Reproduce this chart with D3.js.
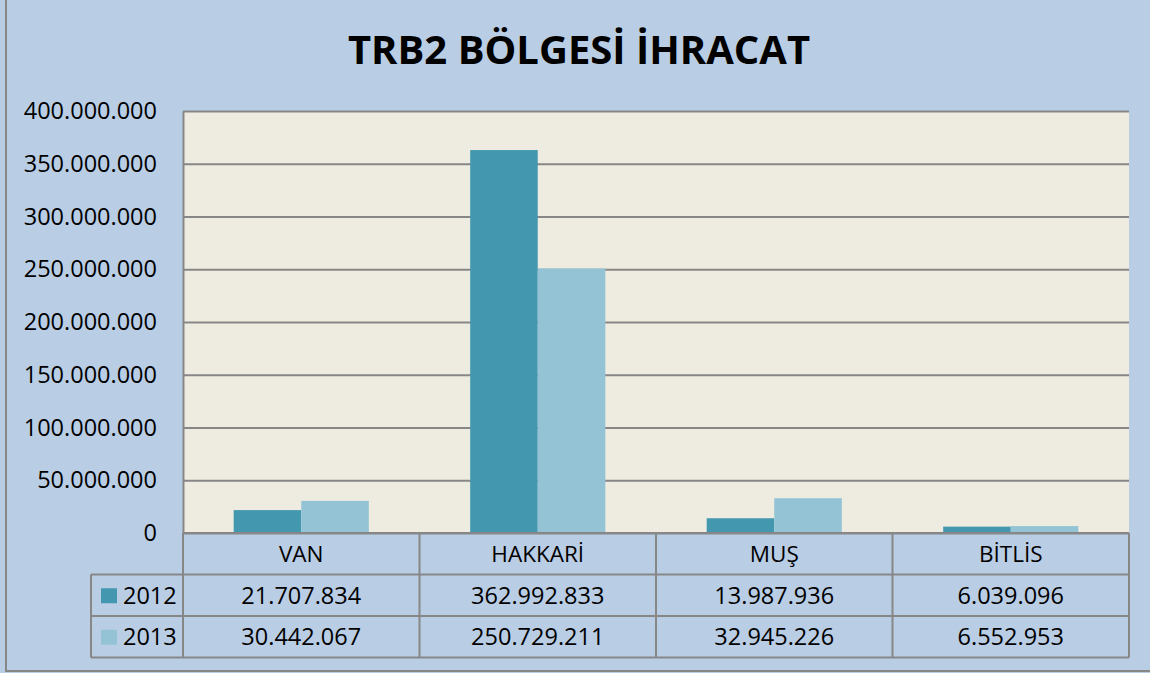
<!DOCTYPE html>
<html>
<head>
<meta charset="utf-8">
<script src="https://cdn.jsdelivr.net/npm/d3@7"></script>
<style>
  html, body { margin: 0; padding: 0; background: #b9cde5; }
  svg { display: block; font-family: "Open Sans", sans-serif; }
</style>
</head>
<body>
<svg id="chart" width="1150" height="673"></svg>
<script>
// Data
const categories = ["VAN", "HAKKARİ", "MUŞ", "BİTLİS"];
const years = ["2012", "2013"];
const values2012 = [21707834, 362992833, 13987936, 6039096];
const values2013 = [30442067, 250729211, 32945226, 6552953];
const yTicks = [0, 50e6, 100e6, 150e6, 200e6, 250e6, 300e6, 350e6, 400e6];

const colors = {"2012": "#4398b0", "2013": "#93c3d5"};
const lineColor = "#878787";

const width = 1150, height = 673;
const plot = {left: 183, right: 1129, top: 111, bottom: 533};
const rowH = 41.5;
const legendLeft = 91;
const fontSize = 23.5;

// turkish style number format: 21.707.834
const trLocale = d3.formatLocale({decimal: ",", thousands: ".", grouping: [3], currency: ["", ""]});
const fmt = trLocale.format(",d");

const svg = d3.select("#chart");

// background + outer border
svg.append("rect")
  .attr("x", 0).attr("y", 0).attr("width", width).attr("height", height)
  .attr("fill", "#b9cde5");
svg.append("rect")
  .attr("x", 6).attr("y", -3).attr("width", width + 10).attr("height", 674)
  .attr("fill", "none").attr("stroke", lineColor).attr("stroke-width", 2);

// title
svg.append("text")
  .attr("x", 579).attr("y", 64)
  .attr("text-anchor", "middle")
  .attr("font-size", 40).attr("font-weight", "bold")
  .attr("fill", "#000")
  .text("TRB2 BÖLGESİ İHRACAT");

// scales
const y = d3.scaleLinear().domain([0, 400e6]).range([plot.bottom, plot.top]);
const x0 = d3.scaleBand().domain(categories).range([plot.left, plot.right]).padding(0);
const x1 = d3.scaleBand().domain(years).range([0, x0.bandwidth()])
  .paddingInner(0).paddingOuter(0.75);

// plot area
svg.append("rect")
  .attr("x", plot.left).attr("y", plot.top)
  .attr("width", plot.right - plot.left).attr("height", plot.bottom - plot.top)
  .attr("fill", "#eeece1");

// y axis with gridlines
const yAxis = d3.axisLeft(y)
  .tickValues(yTicks)
  .tickFormat(d => d === 0 ? "0" : fmt(d))
  .tickSizeInner(-(plot.right - plot.left))
  .tickSizeOuter(0)
  .tickPadding(26);

const gy = svg.append("g")
  .attr("transform", `translate(${plot.left},0)`)
  .call(yAxis);
gy.select(".domain").attr("stroke", lineColor).attr("stroke-width", 2);
gy.selectAll(".tick line").attr("stroke", lineColor).attr("stroke-width", 2);
gy.selectAll(".tick text")
  .attr("font-size", fontSize)
  .attr("font-family", "Open Sans, sans-serif")
  .attr("fill", "#000");

// bars
const rows = categories.map((c, i) => ({cat: c, vals: [values2012[i], values2013[i]]}));

const groups = svg.append("g").selectAll("g")
  .data(rows)
  .join("g")
  .attr("transform", d => `translate(${x0(d.cat)},0)`);

groups.selectAll("rect")
  .data(d => years.map((yr, j) => ({year: yr, value: d.vals[j]})))
  .join("rect")
  .attr("x", d => x1(d.year))
  .attr("width", x1.bandwidth())
  .attr("y", d => y(d.value))
  .attr("height", d => y(0) - y(d.value))
  .attr("fill", d => colors[d.year]);

// data table under the plot
const table = svg.append("g");
const catRowTop = plot.bottom;
const rowTops = [catRowTop, catRowTop + rowH, catRowTop + 2 * rowH, catRowTop + 3 * rowH];

// category labels
table.selectAll("text.cat")
  .data(categories)
  .join("text")
  .attr("class", "cat")
  .attr("x", d => x0(d) + x0.bandwidth() / 2)
  .attr("y", rowTops[0] + rowH / 2 + 8)
  .attr("text-anchor", "middle")
  .attr("font-size", 22.5)
  .text(d => d);

// value cells
const series = [values2012, values2013];
series.forEach((vals, s) => {
  table.selectAll("text.v" + s)
    .data(vals)
    .join("text")
    .attr("class", "v" + s)
    .attr("x", (d, i) => x0(categories[i]) + x0.bandwidth() / 2)
    .attr("y", rowTops[s + 1] + rowH / 2 + 8.5)
    .attr("text-anchor", "middle")
    .attr("font-size", fontSize)
    .text(d => fmt(d));

  // legend key
  table.append("rect")
    .attr("x", 101).attr("y", rowTops[s + 1] + rowH / 2 - 7)
    .attr("width", 16).attr("height", 15)
    .attr("fill", colors[years[s]]);
  table.append("text")
    .attr("x", 123).attr("y", rowTops[s + 1] + rowH / 2 + 8.5)
    .attr("font-size", fontSize)
    .text(years[s]);
});

// table grid lines
const gridLines = [];
gridLines.push([plot.left, rowTops[0], plot.right, rowTops[0]]);
for (let r = 1; r <= 3; r++) gridLines.push([legendLeft, rowTops[r], plot.right, rowTops[r]]);
x0.domain().forEach(c => gridLines.push([x0(c), rowTops[0], x0(c), rowTops[3]]));
gridLines.push([plot.right, rowTops[0], plot.right, rowTops[3]]);
gridLines.push([legendLeft, rowTops[1], legendLeft, rowTops[3]]);

table.selectAll("line")
  .data(gridLines)
  .join("line")
  .attr("x1", d => d[0]).attr("y1", d => d[1])
  .attr("x2", d => d[2]).attr("y2", d => d[3])
  .attr("stroke", lineColor).attr("stroke-width", 2);
</script>
</body>
</html>
